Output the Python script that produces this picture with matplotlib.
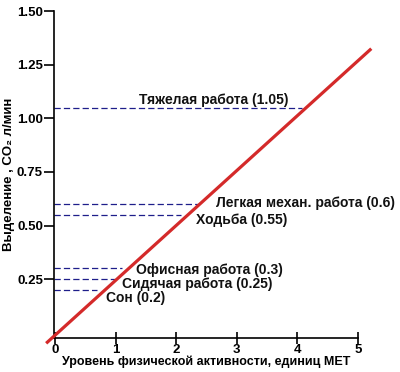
import matplotlib.pyplot as plt

plt.rcParams['font.family'] = ['Liberation Sans', 'DejaVu Sans']
plt.rcParams['font.weight'] = 'bold'

# виды деятельности и выделение CO2 (л/мин)
labels = ['Тяжелая работа (1.05)', 'Легкая механ. работа (0.6)', 'Ходьба (0.55)',
          'Офисная работа (0.3)', 'Сидячая работа (0.25)', 'Сон (0.2)']
co2 = [1.05, 0.6, 0.55, 0.3, 0.25, 0.2]
met_cross = [4.07, 2.38, 2.08, 1.11, 0.98, 0.69]

# красная линия зависимости
line_met = [-0.13, 5.2]
line_co2 = [-0.044, 1.32]

# где стоят подписи
text_x = [1.39, 2.66, 2.33, 1.34, 1.10, 0.84]
text_y = [1.087, 0.605, 0.526, 0.292, 0.227, 0.161]

fig = plt.figure(figsize=(4, 3.72), dpi=100)
ax = fig.add_axes([0.135, 0.091, 0.76, 0.879])

for y, xe in zip(co2, met_cross):
    ax.plot([-0.02, xe], [y, y], color='#1e1e8a', lw=0.9, dashes=(5, 2.5))

ax.plot(line_met, line_co2, color='#d42a2a', lw=2.3, clip_on=False, zorder=5)

for t, x, y in zip(labels, text_x, text_y):
    ax.text(x, y, t, fontsize=10, fontweight='bold', va='center', ha='left', color='#111111')

ax.set_xlim(-0.02, 5)
ax.set_ylim(-0.025, 1.5)
ax.set_xticks([0, 1, 2, 3, 4, 5])
ax.set_yticks([0.25, 0.5, 0.75, 1.0, 1.25, 1.5])
ax.set_yticklabels(['0.25', '0.50', '0.75', '1.00', '1.25', '1.50'])
ax.spines['top'].set_visible(False)
ax.spines['right'].set_visible(False)
ax.spines['left'].set_linewidth(1.2)
ax.spines['bottom'].set_linewidth(1.2)
ax.spines['bottom'].set_bounds(-0.02, 5)
ax.tick_params(axis='y', direction='out', length=7, width=1.2, pad=1, labelsize=9.5)
ax.tick_params(axis='x', direction='inout', length=8, width=1.2, pad=0, labelsize=9.5)
for lab in ax.get_xticklabels() + ax.get_yticklabels():
    lab.set_fontweight('bold')

ax.set_xlabel('Уровень физической активности, единиц МЕТ', fontsize=9, fontweight='bold', labelpad=0)
ax.set_ylabel('Выделение , CO₂ л/мин', fontsize=9.5, fontweight='bold', labelpad=1)

fig.savefig('out.png', dpi=100)
